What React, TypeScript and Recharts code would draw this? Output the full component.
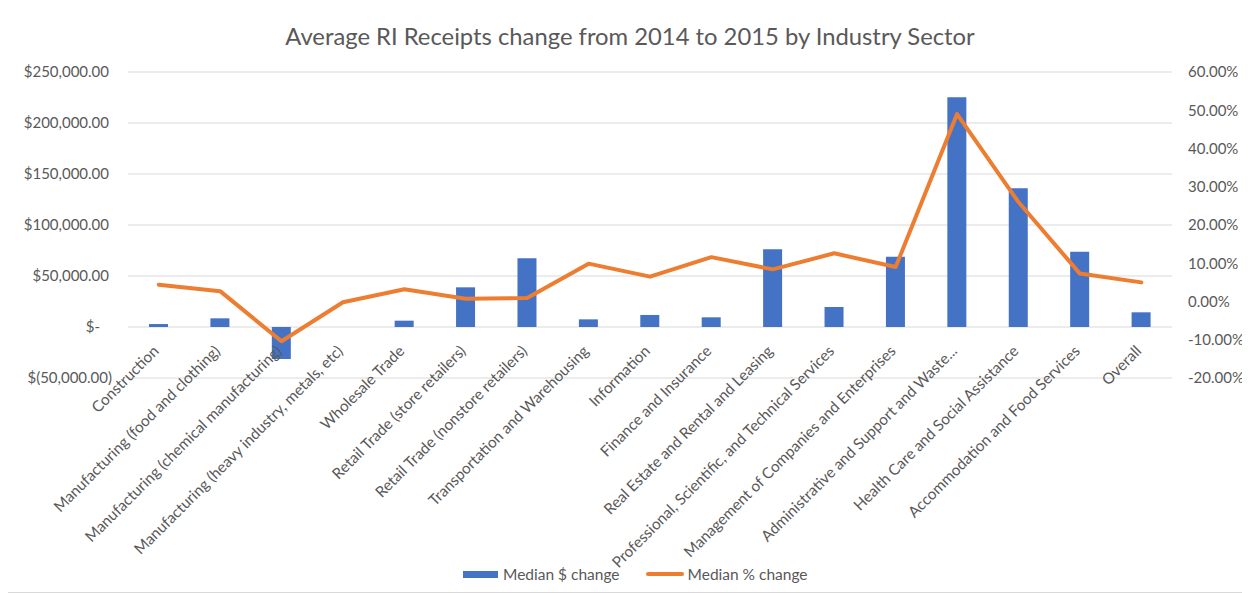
import React from "react";
import {
  ComposedChart,
  Bar,
  Line,
  XAxis,
  YAxis,
  CartesianGrid,
  Legend,
} from "recharts";

const categories: string[] = [
  "Construction",
  "Manufacturing (food and clothing)",
  "Manufacturing (chemical manufacturing)",
  "Manufacturing (heavy industry, metals, etc)",
  "Wholesale Trade",
  "Retail Trade (store retailers)",
  "Retail Trade (nonstore retailers)",
  "Transportation and Warehousing",
  "Information",
  "Finance and Insurance",
  "Real Estate and Rental and Leasing",
  "Professional, Scientific, and Technical Services",
  "Management of Companies and Enterprises",
  "Administrative and Support and Waste...",
  "Health Care and Social Assistance",
  "Accommodation and Food Services",
  "Overall",
];

const medianDollarChange: number[] = [
  2900, 8500, -31400, 0, 6200, 38900, 67400, 7500, 11800, 9500, 76200, 19600,
  68900, 225200, 136000, 73800, 14400,
];

const medianPctChange: number[] = [
  0.044, 0.027, -0.104, -0.002, 0.032, 0.007, 0.009, 0.099, 0.065, 0.116,
  0.084, 0.126, 0.09, 0.49, 0.26, 0.073, 0.05,
];

const leftTicks: number[] = [-50000, 0, 50000, 100000, 150000, 200000, 250000];
const rightTicks: number[] = [-0.2, -0.1, 0, 0.1, 0.2, 0.3, 0.4, 0.5, 0.6];

const TITLE = "Average RI Receipts change from 2014 to 2015 by Industry Sector";
const BAR_NAME = "Median $ change";
const LINE_NAME = "Median % change";

const data = categories.map((c, i) => ({
  name: c,
  dollar: medianDollarChange[i],
  pct: medianPctChange[i],
}));

const FONT = "Lato, 'Open Sans', sans-serif";
const TEXT = "#595959";
const BLUE = "#4472C4";
const ORANGE = "#ED7D31";

const fmtDollar = (v: number): string => {
  if (v === 0) return "$-";
  const s = Math.abs(v).toLocaleString("en-US", {
    minimumFractionDigits: 2,
    maximumFractionDigits: 2,
  });
  return v < 0 ? `$(${s})` : `$${s}`;
};

const fmtPct = (v: number): string => `${(v * 100).toFixed(2)}%`;

const LeftTick = (props: any) => {
  const { x, y, payload } = props;
  const v = payload.value as number;
  const shift = v < 0 ? 3 : v === 0 ? -9 : 0;
  return (
    <text
      x={x + shift}
      y={y}
      dy="0.35em"
      textAnchor="end"
      fill={TEXT}
      fontSize={15}
      fontFamily={FONT}
    >
      {fmtDollar(v)}
    </text>
  );
};

const RightTick = (props: any) => {
  const { x, y, payload } = props;
  return (
    <text
      x={x}
      y={y}
      dy="0.35em"
      textAnchor="start"
      fill={TEXT}
      fontSize={15}
      fontFamily={FONT}
    >
      {fmtPct(payload.value as number)}
    </text>
  );
};

const CategoryTick = (props: any) => {
  const { x, y, payload } = props;
  const ax = x + 1;
  const ay = y - 26;
  return (
    <text
      x={ax}
      y={ay}
      textAnchor="end"
      fill={TEXT}
      fontSize={15.3}
      fontFamily={FONT}
      transform={`rotate(-45, ${ax}, ${ay})`}
    >
      {payload.value}
    </text>
  );
};

const LegendContent = (props: any) => {
  const payload: any[] = props.payload || [];
  return (
    <div
      style={{
        display: "flex",
        alignItems: "center",
        paddingLeft: 455,
        fontFamily: FONT,
        fontSize: 15.5,
        color: TEXT,
        height: 24,
      }}
    >
      {payload.map((p, i) => (
        <div
          key={i}
          style={{ display: "flex", alignItems: "center", marginRight: 26 }}
        >
          {p.type === "line" ? (
            <div
              style={{
                width: 38,
                height: 4,
                background: p.color,
                borderRadius: 2,
                marginRight: 4,
              }}
            />
          ) : (
            <div
              style={{
                width: 35,
                height: 7,
                background: p.color,
                marginRight: 5,
              }}
            />
          )}
          <span>{p.value}</span>
        </div>
      ))}
    </div>
  );
};

export default function App() {
  return (
    <div
      style={{
        position: "relative",
        width: 1236,
        height: 591,
        border: "1px solid #d9d9d9",
        margin: "-8px 0 0 -1px",
        background: "#fff",
      }}
    >
      <div
        style={{
          position: "absolute",
          top: 21,
          left: 4,
          width: 1236,
          textAlign: "center",
          fontFamily: FONT,
          fontSize: 23.8,
          color: TEXT,
          zIndex: 2,
        }}
      >
        {TITLE}
      </div>
      <ComposedChart
        width={1236}
        height={591}
        data={data}
        margin={{ top: 71, right: 0, bottom: 6, left: 0 }}
      >
        <CartesianGrid
          vertical={false}
          stroke="#d9d9d9"
          strokeWidth={1.2}
          yAxisId="left"
        />
        <XAxis
          dataKey="name"
          interval={0}
          height={184}
          axisLine={false}
          tickLine={false}
          tickSize={0}
          tickMargin={0}
          tick={<CategoryTick />}
        />
        <YAxis
          yAxisId="left"
          orientation="left"
          width={120}
          domain={[-50000, 250000]}
          ticks={leftTicks}
          axisLine={false}
          tickLine={false}
          tickSize={0}
          tickMargin={19}
          tick={<LeftTick />}
        />
        <YAxis
          yAxisId="right"
          orientation="right"
          width={72}
          domain={[-0.2, 0.6]}
          ticks={rightTicks}
          axisLine={false}
          tickLine={false}
          tickSize={0}
          tickMargin={16}
          tick={<RightTick />}
        />
        <Bar
          yAxisId="left"
          dataKey="dollar"
          name={BAR_NAME}
          fill={BLUE}
          barSize={19}
          isAnimationActive={false}
        />
        <Line
          yAxisId="right"
          dataKey="pct"
          name={LINE_NAME}
          type="linear"
          stroke={ORANGE}
          strokeWidth={4}
          strokeLinecap="round"
          strokeLinejoin="round"
          dot={false}
          activeDot={false}
          isAnimationActive={false}
        />
        <Legend verticalAlign="bottom" content={<LegendContent />} />
      </ComposedChart>
    </div>
  );
}
